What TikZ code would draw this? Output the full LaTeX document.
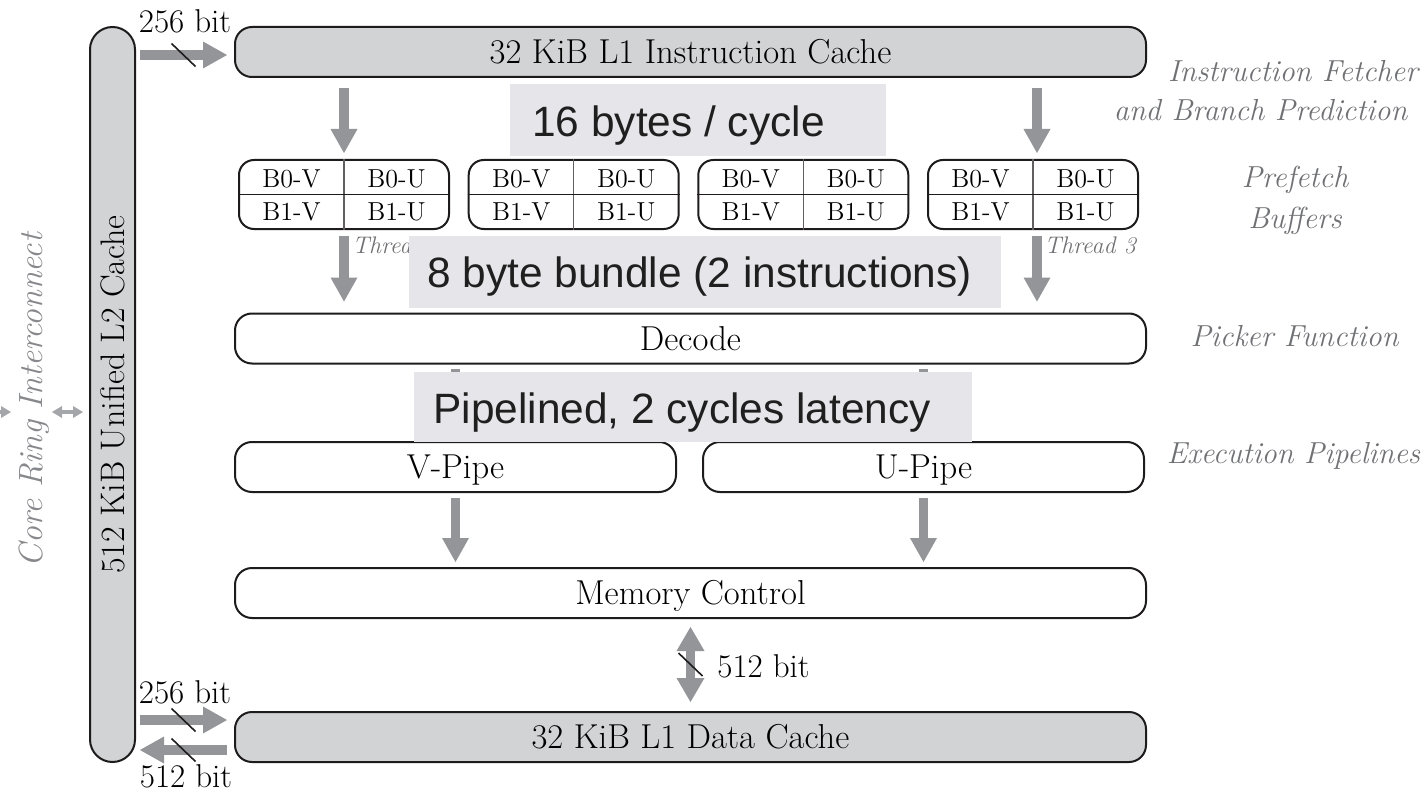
\documentclass[tikz,border=0pt]{standalone}
\usepackage{fontspec}
\newfontfamily\bannerfont{Liberation Sans}
\usetikzlibrary{arrows.meta,calc}
\definecolor{cachegray}{RGB}{209,211,212}
\definecolor{arrowgray}{RGB}{147,149,152}
\definecolor{ringarrow}{RGB}{165,166,169}
\definecolor{bannerfill}{RGB}{230,230,234}
\definecolor{labelgray}{RGB}{112,113,116}
\definecolor{ringgray}{RGB}{135,136,139}
\definecolor{inkblack}{RGB}{30,27,28}
\tikzset{
  bigbox/.style={draw=inkblack, line width=1pt, rounded corners=8.5pt, minimum height=25pt,
    inner sep=0pt, font=\fontsize{17.3}{20}\selectfont, text=black, text height=11.8pt, text depth=0pt},
  cachebox/.style={bigbox, fill=cachegray},
  pfbox/.style={draw=inkblack, line width=1pt, rounded corners=7.5pt, minimum width=105pt,
    minimum height=34.5pt, inner sep=0pt},
  divthin/.style={draw=inkblack!70, line width=0.6pt},
  divthick/.style={draw=inkblack, line width=0.9pt},
  cell/.style={font=\fontsize{13}{15}\selectfont, text=black, text height=8.9pt, text depth=0pt, inner sep=0pt},
  fatarrow/.style={draw=arrowgray, line width=4.6pt, -{Triangle[width=13.5pt,length=12pt,line width=0pt]}},
  fatdouble/.style={draw=arrowgray, line width=4.6pt,
    {Triangle[width=14pt,length=12pt,line width=0pt]}-{Triangle[width=14pt,length=12pt,line width=0pt]}},
  thindouble/.style={draw=ringarrow, line width=2pt,
    {Triangle[width=6pt,length=5pt,line width=0pt]}-{Triangle[width=6pt,length=5pt,line width=0pt]}},
  slashmark/.style={draw=inkblack, line width=0.8pt},
  bitlbl/.style={font=\fontsize{16.5}{19}\selectfont, text=black, inner sep=0pt},
  sidelbl/.style={font=\itshape\fontsize{15.2}{18}\selectfont, text=labelgray, inner sep=0pt, anchor=base},
  threadlbl/.style={font=\itshape\fontsize{12}{14}\selectfont, text=labelgray, inner sep=0pt, anchor=base west},
  ringlbl/.style={font=\itshape\fontsize{16.8}{20}\selectfont, text=ringgray, inner sep=0pt, text height=11.4pt, text depth=0pt},
  banner/.style={fill=bannerfill, draw=none, inner sep=0pt},
  bannertxt/.style={font=\bannerfont\fontsize{21.2}{25}\selectfont, text=black!88, inner sep=0pt, anchor=base west}
}
\begin{document}
\begin{tikzpicture}[x=0.5pt,y=-0.5pt]
\path[fill=white, use as bounding box] (0,0) rectangle (1425,792);

% L2 cache
\node[cachebox, rounded corners=11.25pt, minimum width=22.5pt, minimum height=367.5pt] (l2) at (112.5,394.5) {};
\node[inner sep=0pt, rotate=90, text=black, text height=11.6pt, text depth=0pt, font=\fontsize{17}{20}\selectfont] (l2text) at (l2.center) {512 KiB Unified L2 Cache};

% Core ring
\node[ringlbl, rotate=90] (ring) at (31.5,400) {Core Ring Interconnect};
\coordinate (ra1) at (52,412); \coordinate (ra2) at (83,412);
\draw[thindouble] (ra1) -- (ra2);
\coordinate (rb1) at (-24,412); \coordinate (rb2) at (11,412);
\draw[thindouble] (rb1) -- (rb2);

% main boxes
\node[cachebox, minimum width=455.5pt] (icache) at (690.5,52) {32 KiB L1 Instruction Cache};
\node[bigbox, minimum width=455.5pt] (decode) at (690.5,338.5) {Decode};
\node[bigbox, minimum width=220.5pt] (vpipe) at (455.5,467) {V-Pipe};
\node[bigbox, minimum width=220.5pt] (upipe) at (923.5,467) {U-Pipe};
\node[bigbox, minimum width=455.5pt] (memctl) at (690.5,593) {Memory Control};
\node[cachebox, minimum width=455.5pt] (l1d) at (690.5,737) {32 KiB L1 Data Cache};

% prefetch buffers
\foreach \i/\x in {1/344,2/573.7,3/803.3,4/1033}{
  \node[pfbox] (pf\i) at (\x,194.5) {};
  \draw[divthin] (pf\i.north) -- (pf\i.south);
  \draw[divthick] (pf\i.west) -- (pf\i.east);
  \node[cell] (cA\i) at ($(pf\i.center)+(-52.5,-15.5)$) {B0-V};
  \node[cell] (cB\i) at ($(pf\i.center)+(52.5,-15.5)$) {B0-U};
  \node[cell] (cC\i) at ($(pf\i.center)+(-52.5,17.5)$) {B1-V};
  \node[cell] (cD\i) at ($(pf\i.center)+(52.5,17.5)$) {B1-U};
}

% thread labels (partly hidden by the banner, as in the original)
\node[threadlbl] (t0) at (352,253) {Thread 0};
\node[threadlbl] (t1) at (581.7,253) {Thread 1};
\node[threadlbl] (t2) at (811.3,253) {Thread 2};
\node[threadlbl] (t3) at (1044,253) {Thread 3};

% arrows
\draw[fatarrow] ($(icache.south -| pf1.north)+(0,10)$) -- ($(pf1.north)+(0,-6)$);
\draw[fatarrow] ($(icache.south -| pf4.north)+(4,10)$) -- ($(pf4.north)+(4,-6)$);
\draw[fatarrow] ($(pf1.south)+(0,6)$) -- ($(pf1.south |- decode.north)+(0,-11)$);
\draw[fatarrow] ($(pf4.south)+(4,6)$) -- ($(pf4.south |- decode.north)+(4,-11)$);
\draw[fatarrow] ($(decode.south -| vpipe.north)+(0,4)$) -- ($(vpipe.north)+(0,-5)$);
\draw[fatarrow] ($(decode.south -| upipe.north)+(0,4)$) -- ($(upipe.north)+(0,-5)$);
\draw[fatarrow] ($(vpipe.south)+(0,5)$) -- ($(vpipe.south |- memctl.north)+(0,-5)$);
\draw[fatarrow] ($(upipe.south)+(0,5)$) -- ($(upipe.south |- memctl.north)+(0,-5)$);
\draw[fatdouble] ($(memctl.south)+(0,8)$) -- coordinate[pos=0.5] (mm) ($(l1d.north)+(0,-9)$);
\draw[slashmark] ($(mm)+(-12,-11.5)$) -- ($(mm)+(12,11.5)$);
\node[bitlbl, anchor=base west] (b512r) at (717,677) {512 bit};

% L2 <-> L1 connections
\draw[fatarrow] ($(l2.east |- icache.west)+(4,3)$) -- coordinate[pos=0.5] (m1) ($(icache.west)+(-7,3)$);
\draw[slashmark] ($(m1)+(-12,-11.5)$) -- ($(m1)+(12,11.5)$);
\node[bitlbl, anchor=base] (b256a) at (185,33) {256 bit};

\draw[fatarrow] ($(l2.east |- l1d.west)+(4,-17)$) -- coordinate[pos=0.5] (m2) ($(l1d.west)+(-7,-17)$);
\draw[slashmark] ($(m2)+(-12,-11.5)$) -- ($(m2)+(12,11.5)$);
\draw[fatarrow] ($(l1d.west)+(-7,13)$) -- coordinate[pos=0.5] (m3) ($(l2.east |- l1d.west)+(4,13)$);
\draw[slashmark] ($(m3)+(-12,-11.5)$) -- ($(m3)+(12,11.5)$);
\node[bitlbl, anchor=base] (b256b) at (185,703) {256 bit};
\node[bitlbl, anchor=base] (b512b) at (186,787) {512 bit};

% side labels
\node[sidelbl] (fetch1) at (1293,82) {Instruction Fetcher};
\node[sidelbl] (fetch2) at (1260.5,120) {and Branch Prediction};
\node[sidelbl] (pref1) at (1295,187) {Prefetch};
\node[sidelbl] (pref2) at (1295,228) {Buffers};
\node[sidelbl] (picker) at (1294.5,346) {Picker Function};
\node[sidelbl] (execp) at (1293.5,463) {Execution Pipelines};

% banners
\node[banner, minimum width=188pt, minimum height=36pt] (ban1) at (698,120) {};
\node[bannertxt] (ban1t) at (532,137) {16 bytes / cycle};
\node[banner, minimum width=296pt, minimum height=36pt] (ban2) at (705,272) {};
\node[bannertxt] (ban2t) at (427,287) {8 byte bundle (2 instructions)};
\node[banner, minimum width=279pt, minimum height=35pt] (ban3) at (693,407) {};
\node[bannertxt] (ban3t) at (433,423) {Pipelined, 2 cycles latency};
\end{tikzpicture}
\end{document}
